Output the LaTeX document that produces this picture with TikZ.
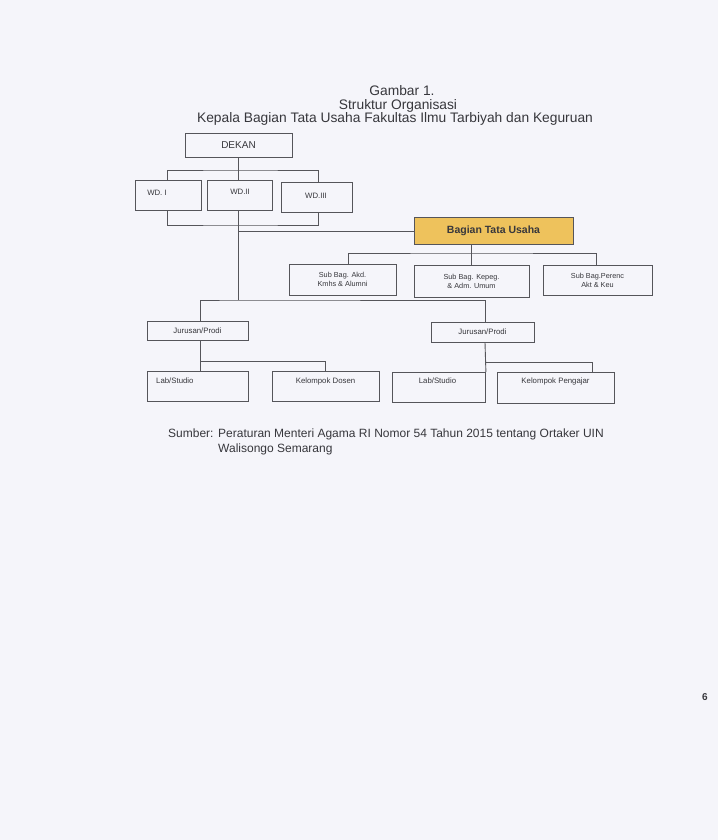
\documentclass[tikz,border=0pt]{standalone}
\usepackage{fontspec}
\setmainfont{Liberation Sans}
\definecolor{paper}{RGB}{245,245,250}
\definecolor{ink}{RGB}{55,55,60}
\definecolor{lineink}{RGB}{85,85,90}
\definecolor{gold}{RGB}{238,194,92}
\begin{document}
\begin{tikzpicture}[x=1pt,y=-1pt,
  box/.style={draw=lineink, line width=0.9pt, inner sep=0pt, align=center, text=ink},
  conn/.style={draw=lineink, line width=0.9pt},
  lbl/.style={text=ink, inner sep=0pt, font=\fontsize{7.8}{9}\selectfont},
  subtxt/.style={font=\fontsize{7.3}{9}\selectfont},
  ttl/.style={anchor=base, text=ink, inner sep=0pt, font=\fontsize{13.8}{14}\selectfont},
  src/.style={anchor=base west, text=ink, inner sep=0pt, font=\fontsize{12}{14}\selectfont}]
\fill[paper] (0,0) rectangle (718,840);
\useasboundingbox (0,0) rectangle (718,840);
% title
\node[ttl] (t1) at (402,96) {Gambar 1.};
\node[ttl] (t2) at (398,109.5) {Struktur Organisasi};
\node[ttl] (t3) at (395,123) {Kepala Bagian Tata Usaha Fakultas Ilmu Tarbiyah dan Keguruan};
% boxes
\node[box, minimum width=107pt, minimum height=24pt, font=\fontsize{10}{11}\selectfont] (dekan) at (238.5,145) {DEKAN};
\node[box, minimum width=66pt, minimum height=30pt, anchor=north west] (wd1) at (135,180) {};
\node[lbl] at (157,193) {WD. I};
\node[box, minimum width=65pt, minimum height=30pt, anchor=north west] (wd2) at (207,180) {};
\node[lbl] at (240,192) {WD.II};
\node[box, minimum width=71pt, minimum height=30pt, anchor=north west] (wd3) at (281,182) {};
\node[lbl] at (316,196) {WD.III};
\node[box, fill=gold, minimum width=159pt, minimum height=27pt, font=\bfseries\fontsize{10.5}{12}\selectfont] (btu) at (493.5,230.5) {Bagian Tata Usaha};
\node[box, lbl, subtxt, minimum width=107pt, minimum height=31pt] (sb1) at (342.5,279.5) {Sub Bag. Akd.\\Kmhs \& Alumni};
\node[box, lbl, subtxt, minimum width=115pt, minimum height=32pt] (sb2) at (471.5,281) {Sub Bag. Kepeg.\\\& Adm. Umum};
\node[box, lbl, subtxt, minimum width=109pt, minimum height=30pt] (sb3) at (597.5,280) {Sub Bag.Perenc\\Akt \& Keu};
\node[box, lbl, minimum width=101pt, minimum height=19pt] (jp1) at (197.5,330.5) {Jurusan/Prodi};
\node[box, lbl, minimum width=103pt, minimum height=20pt] (jp2) at (482.5,332) {Jurusan/Prodi};
\node[box, minimum width=101pt, minimum height=30pt, anchor=north west] (lab1) at (147,371) {};
\node[lbl, anchor=west] at (156,381) {Lab/Studio};
\node[box, minimum width=107pt, minimum height=30pt, anchor=north west] (kd) at (272,371) {};
\node[lbl] at (325.5,381) {Kelompok Dosen};
\node[box, minimum width=93pt, minimum height=30pt, anchor=north west] (lab2) at (392,372) {};
\node[lbl] at (437.5,381) {Lab/Studio};
\node[box, minimum width=117pt, minimum height=31pt, anchor=north west] (kp) at (497,372) {};
\node[lbl] at (555.5,381) {Kelompok Pengajar};
% junctions
\coordinate (j1) at (238,170);
\coordinate (j2) at (238,225);
\coordinate (j3) at (238,300);
\coordinate (j4) at (471,253);
% connectors
\draw[conn] (dekan.south -| j1) -- (j1);
\draw[conn] (wd1.north -| 167,0) |- (j1) -| (wd3.north -| 318,0);
\draw[conn] (j1) -- (wd2.north -| j1);
\draw[conn] (wd1.south -| 167,0) |- (j2) -| (wd3.south -| 318,0);
\draw[conn] (wd2.south -| j1) -- (j3);
\draw[conn] (238,231) -- (btu.west |- 238,231);
\draw[conn] (btu.south -| j4) -- (j4);
\draw[conn] (sb1.north -| 348,0) |- (j4) -| (sb3.north -| 596,0);
\draw[conn] (j4) -- (sb2.north -| j4);
\draw[conn] (jp1.north -| 200,0) |- (j3) -| (jp2.north -| 485,0);
\draw[conn] (jp1.south -| 200,0) -- (lab1.north -| 200,0);
\draw[conn] (200,361) -| (kd.north -| 325,0);
\draw[conn] (jp2.south -| 485,0) -- (lab2.north east);
\draw[conn] (485,362) -| (kp.north -| 592,0);
% source
\node[src] (sumlbl) at (168,437) {Sumber:};
\node[src] (sum1) at (218,437) {Peraturan Menteri Agama RI Nomor 54 Tahun 2015 tentang Ortaker UIN};
\node[src] (sum2) at (218,452) {Walisongo Semarang};
\node[text=ink, font=\bfseries\fontsize{10}{12}\selectfont] (page) at (705,697) {6};
\end{tikzpicture}
\end{document}
